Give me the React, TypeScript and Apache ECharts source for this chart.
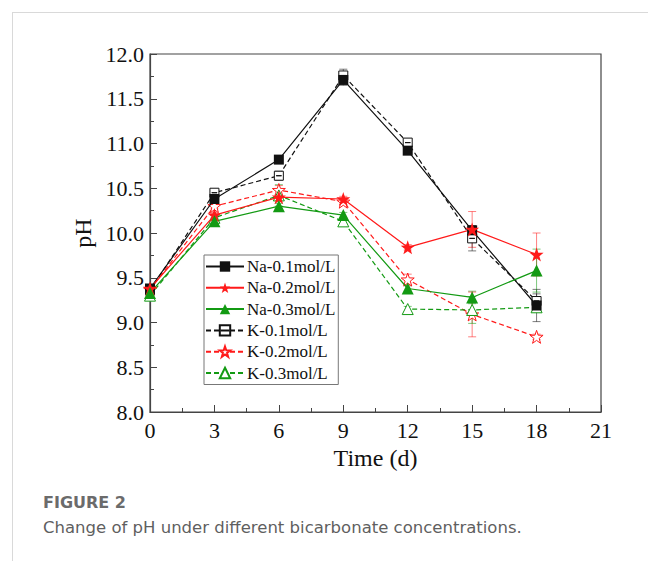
import React, { useEffect, useRef } from "react";
import * as echarts from "echarts";

const days = [0, 3, 6, 9, 12, 15, 18];
const na01 = [9.38, 10.38, 10.82, 11.71, 10.92, 10.03, 9.19];
const na02 = [9.38, 10.2, 10.4, 10.38, 9.84, 10.04, 9.76];
const na03 = [9.33, 10.13, 10.3, 10.2, 9.38, 9.28, 9.58];
const k01 = [9.36, 10.45, 10.64, 11.76, 11.01, 9.94, 9.24];
const k02 = [9.37, 10.3, 10.48, 10.35, 9.48, 9.09, 8.84];
const k03 = [9.3, 10.17, 10.42, 10.13, 9.15, 9.14, 9.17];

const na01Err = [0.03, 0.03, 0.03, 0.06, 0.03, 0.05, 0.18];
const na02Err = [0.03, 0.03, 0.03, 0.03, 0.03, 0.2, 0.24];
const na03Err = [0.03, 0.03, 0.03, 0.03, 0.03, 0.07, 0.24];
const k01Err = [0.03, 0.03, 0.05, 0.07, 0.04, 0.14, 0.08];
const k02Err = [0.03, 0.03, 0.05, 0.03, 0.06, 0.25, 0.03];
const k03Err = [0.03, 0.03, 0.12, 0.03, 0.03, 0.15, 0.03];

const names = ["Na-0.1mol/L", "Na-0.2mol/L", "Na-0.3mol/L", "K-0.1mol/L", "K-0.2mol/L", "K-0.3mol/L"];

const BLACK = "#111111";
const RED = "#ff1a1a";
const GREEN = "#139a13";
const STAR = "path://M0,-10 L2.35,-3.24 L9.51,-3.09 L3.8,1.24 L5.88,8.09 L0,4 L-5.88,8.09 L-3.8,1.24 L-9.51,-3.09 L-2.35,-3.24 Z";
const BOXMINUS = "path://M0,0 L10,0 L10,10 L0,10 Z M2,5 L8,5 L8,5.01 L2,5.01 Z";

const defs = [
  { name: names[0], vals: na01, err: na01Err, color: BLACK, symbol: "rect", size: 10, filled: true, dashed: false },
  { name: names[1], vals: na02, err: na02Err, color: RED, symbol: STAR, size: 14, filled: true, dashed: false },
  { name: names[2], vals: na03, err: na03Err, color: GREEN, symbol: "triangle", size: 12, filled: true, dashed: false },
  { name: names[3], vals: k01, err: k01Err, color: BLACK, symbol: BOXMINUS, size: 9, filled: false, dashed: true },
  { name: names[4], vals: k02, err: k02Err, color: RED, symbol: STAR, size: 13, filled: false, dashed: true },
  { name: names[5], vals: k03, err: k03Err, color: GREEN, symbol: "triangle", size: 11, filled: false, dashed: true },
];

export default function App() {
  const ref = useRef<HTMLDivElement>(null);
  useEffect(() => {
    document.body.style.margin = "0";
    const chart = echarts.init(ref.current!, null, { renderer: "svg" });
    const series: any[] = [];
    defs.forEach((d) => {
      series.push({
        type: "custom",
        name: d.name + "-err",
        data: days.map((x, i) => [x, d.vals[i], d.err[i]]),
        z: 1,
        silent: true,
        renderItem: (params: any, api: any) => {
          const x = api.value(0);
          const y = api.value(1);
          const e = api.value(2);
          const top = api.coord([x, y + e]);
          const bot = api.coord([x, y - e]);
          const c = d.color;
          const st = { stroke: c, lineWidth: 1, opacity: 0.55 };
          return {
            type: "group",
            children: [
              { type: "line", shape: { x1: top[0], y1: top[1], x2: bot[0], y2: bot[1] }, style: st },
              { type: "line", shape: { x1: top[0] - 4, y1: top[1], x2: top[0] + 4, y2: top[1] }, style: st },
              { type: "line", shape: { x1: bot[0] - 4, y1: bot[1], x2: bot[0] + 4, y2: bot[1] }, style: st },
            ],
          };
        },
      });
    });
    defs.forEach((d) => {
      series.push({
        type: "line",
        name: d.name,
        data: days.map((x, i) => [x, d.vals[i]]),
        symbol: d.symbol,
        symbolSize: d.size,
        showAllSymbol: true,
        z: 3 + (d.filled ? 1 : 0),
        lineStyle: { color: d.color, width: 1.2, type: d.dashed ? [5, 3] : "solid" },
        itemStyle: d.filled
          ? { color: d.color, borderColor: d.color, borderWidth: 0 }
          : { color: "#ffffff", borderColor: d.color, borderWidth: 1 },
        emphasis: { disabled: true },
      });
    });

    chart.setOption({
      animation: false,
      backgroundColor: "#ffffff",
      grid: {
        left: 150,
        top: 54,
        width: 451,
        height: 358,
        show: true,
        borderColor: "#444",
        borderWidth: 1.2,
        backgroundColor: "transparent",
      },
      legend: {
        data: names,
        orient: "vertical",
        left: 204,
        top: 255,
        itemWidth: 38,
        itemHeight: 13,
        itemGap: 4.3,
        padding: [3, 3, 3, 1],
        borderColor: "#777",
        borderWidth: 1,
        backgroundColor: "#fff",
        textStyle: { fontFamily: "Liberation Serif", fontSize: 17, color: "#111", padding: [0, 0, 0, -2] },
      },
      xAxis: {
        type: "value",
        min: 0,
        max: 21,
        interval: 3,
        name: "Time (d)",
        nameLocation: "middle",
        nameGap: 31,
        nameTextStyle: { fontFamily: "Liberation Serif", fontSize: 24, color: "#111" },
        axisLine: { show: true, lineStyle: { color: "#444", width: 1.2 } },
        axisTick: { show: true, inside: true, length: 7, lineStyle: { color: "#444" } },
        minorTick: { show: true, splitNumber: 2, length: 4, lineStyle: { color: "#444" } },
        axisLabel: { fontFamily: "Liberation Serif", fontSize: 22, color: "#111", margin: 7 },
        splitLine: { show: false },
      },
      yAxis: {
        type: "value",
        min: 8,
        max: 12,
        interval: 0.5,
        name: "pH",
        nameLocation: "middle",
        nameGap: 44,
        nameTextStyle: { fontFamily: "Liberation Serif", fontSize: 24, color: "#111" },
        axisLine: { show: true, lineStyle: { color: "#444", width: 1.2 } },
        axisTick: { show: true, inside: true, length: 7, lineStyle: { color: "#444" } },
        minorTick: { show: true, splitNumber: 2, length: 4, lineStyle: { color: "#444" } },
        axisLabel: {
          fontFamily: "Liberation Serif",
          fontSize: 22,
          color: "#111",
          margin: 6,
          formatter: (v: number) => v.toFixed(1),
        },
        splitLine: { show: false },
      },
      graphic: [
        { type: "line", shape: { x1: 12.5, y1: 12, x2: 12.5, y2: 561 }, style: { stroke: "#d9d9d9", lineWidth: 1 } },
        { type: "line", shape: { x1: 12, y1: 12.5, x2: 648, y2: 12.5 }, style: { stroke: "#d9d9d9", lineWidth: 1 } },
        {
          type: "text",
          left: 43,
          top: 494,
          style: { text: "FIGURE 2", fontFamily: "DejaVu Sans", fontSize: 16, fontWeight: "bold", fill: "#6b6b6b" },
        },
        {
          type: "text",
          left: 43,
          top: 519,
          style: {
            text: "Change of pH under different bicarbonate concentrations.",
            fontFamily: "DejaVu Sans",
            fontSize: 16.5,
            fill: "#5f5f5f",
          },
        },
      ],
      series,
    });
    return () => chart.dispose();
  }, []);
  return <div ref={ref} style={{ position: "absolute", left: 0, top: 0, width: 660, height: 561 }} />;
}
